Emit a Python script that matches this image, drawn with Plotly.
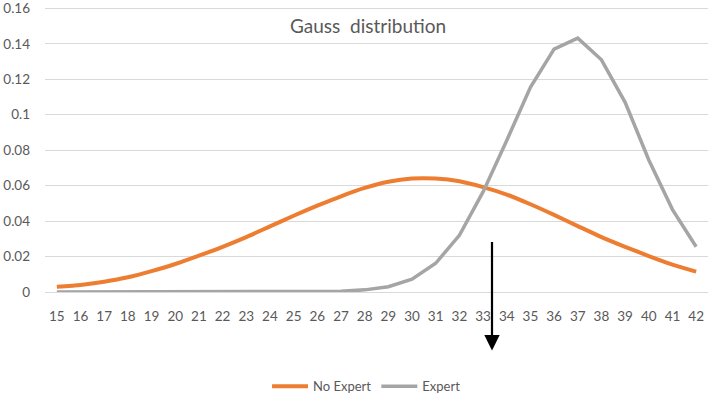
import plotly.graph_objects as go

categories = [str(v) for v in range(15, 43)]
no_expert = [0.003, 0.004, 0.0058, 0.0083, 0.0118, 0.0158, 0.0205, 0.0255, 0.031, 0.037,
             0.043, 0.0487, 0.054, 0.0587, 0.0622, 0.064, 0.064, 0.0625, 0.0592, 0.055,
             0.0495, 0.0435, 0.0372, 0.031, 0.0255, 0.0203, 0.0155, 0.0115]
expert = [0, 0, 0, 0, 0, 0, 0, 0, 0, 0,
          0, 0.0001, 0.0004, 0.0012, 0.003, 0.0072, 0.0162, 0.032, 0.0565, 0.0855,
          0.1155, 0.137, 0.1432, 0.131, 0.107, 0.0745, 0.0465, 0.0255]
y_ticks = [0, 0.02, 0.04, 0.06, 0.08, 0.1, 0.12, 0.14, 0.16]
y_tick_labels = ["0", "0.02", "0.04", "0.06", "0.08", "0.1", "0.12", "0.14", "0.16"]

font_family = "Lato, Open Sans, sans-serif"
text_color = "#595959"

fig = go.Figure()
fig.add_trace(go.Scatter(x=categories, y=no_expert, mode="lines", name="No Expert",
                         line=dict(color="#ED7D31", width=4, shape="spline", smoothing=0.6)))
fig.add_trace(go.Scatter(x=categories, y=expert, mode="lines", name="Expert",
                         line=dict(color="#A5A5A5", width=3.5)))

fig.update_layout(
    width=708, height=395,
    margin=dict(l=45, r=0, t=4, b=103),
    paper_bgcolor="white", plot_bgcolor="white",
    font=dict(family=font_family, color=text_color, size=13),
    showlegend=True,
    legend=dict(orientation="h", x=0.485, xanchor="center", xref="paper",
                yref="container", y=0.022, yanchor="middle",
                font=dict(size=13, color=text_color), itemwidth=36, tracegroupgap=0,
                bgcolor="rgba(0,0,0,0)"),
    xaxis=dict(type="category", showgrid=False, showline=False, zeroline=False,
               ticks="", tickfont=dict(size=13.5, color=text_color), ticklabelstandoff=14,
               range=[-0.5, 27.5], fixedrange=True),
    yaxis=dict(range=[0, 0.1608], tickvals=y_ticks, ticktext=y_tick_labels,
               showgrid=True, gridcolor="#D9D9D9", gridwidth=1.2, zeroline=True,
               zerolinecolor="#D9D9D9", zerolinewidth=1.2, showline=False, ticks="",
               tickfont=dict(size=13.5, color=text_color), ticklabelstandoff=14,
               ticklabeloverflow="allow"),
    annotations=[
        dict(text="Gauss  distribution", xref="paper", yref="paper", x=0.487, y=0.935,
             xanchor="center", yanchor="middle", showarrow=False,
             font=dict(size=19, color=text_color, family=font_family)),
        dict(text="", xref="paper", yref="paper", x=(492 - 45) / 663, y=(292 - 351) / 288,
             showarrow=True, arrowhead=2, arrowsize=1.4, arrowwidth=2.2, arrowcolor="black",
             ax=0, ay=-110, standoff=0),
    ],
)

fig.write_html("out.html")
